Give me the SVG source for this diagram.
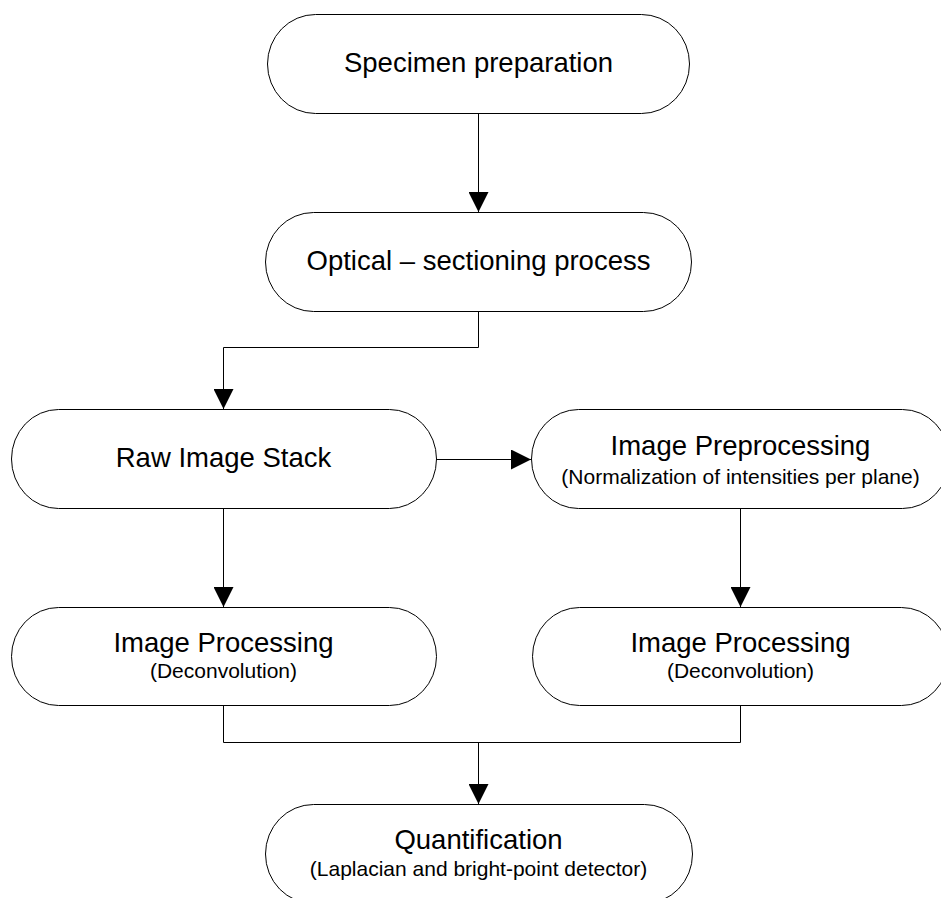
<svg xmlns="http://www.w3.org/2000/svg" width="941" height="898" viewBox="0 0 941 898">
<defs>
<style>
.node{fill:#ffffff;stroke:#000000;stroke-width:1}
.t{font-family:"Liberation Sans",Arial,sans-serif;font-size:27.5px;fill:#000000;text-anchor:middle}
.s{font-family:"Liberation Sans",Arial,sans-serif;font-size:21px;fill:#000000;text-anchor:middle}
.c{fill:none;stroke:#000000;stroke-width:1}
</style>
<marker id="ah" markerUnits="userSpaceOnUse" markerWidth="20" markerHeight="20" viewBox="0 0 18 18" refX="18" refY="9" orient="auto">
<path d="M0,0 L18,9 L0,18 Z" fill="#000000"/>
</marker>
</defs>
<rect width="941" height="898" fill="#ffffff"/>
<g id="connectors">
<path class="c" d="M478.5,113 V212" marker-end="url(#ah)"/>
<path class="c" d="M478.5,311 V347.5 H223.5 V409" marker-end="url(#ah)"/>
<path class="c" d="M436,459.5 H531" marker-end="url(#ah)"/>
<path class="c" d="M223.5,508 V607" marker-end="url(#ah)"/>
<path class="c" d="M740.5,508 V607" marker-end="url(#ah)"/>
<path class="c" d="M223.5,705 V742.5 H740.5 V705"/>
<path class="c" d="M478.5,742.5 V804" marker-end="url(#ah)"/>
</g>
<g id="specimen">
<rect class="node" x="267.5" y="14.5" width="422" height="99" rx="48" ry="49.5"/>
<text class="t" x="478.5" y="72">Specimen preparation</text>
</g>
<g id="optical">
<rect class="node" x="265.5" y="212.5" width="426" height="99" rx="48" ry="49.5"/>
<text class="t" x="478.5" y="270">Optical – sectioning process</text>
</g>
<g id="raw">
<rect class="node" x="11.5" y="409.5" width="425" height="99" rx="47" ry="49.5"/>
<text class="t" x="223.5" y="467">Raw Image Stack</text>
</g>
<g id="preprocessing">
<rect class="node" x="531.5" y="409.5" width="418" height="99" rx="47" ry="49.5"/>
<text class="t" x="740.5" y="455">Image Preprocessing</text>
<text class="s" x="740.5" y="484">(Normalization of intensities per plane)</text>
</g>
<g id="processing-left">
<rect class="node" x="11.5" y="607.5" width="425" height="98" rx="47" ry="49"/>
<text class="t" x="223.5" y="652">Image Processing</text>
<text class="s" x="223.5" y="678">(Deconvolution)</text>
</g>
<g id="processing-right">
<rect class="node" x="532.5" y="607.5" width="416" height="98" rx="47" ry="49"/>
<text class="t" x="740.5" y="652">Image Processing</text>
<text class="s" x="740.5" y="678">(Deconvolution)</text>
</g>
<g id="quantification">
<rect class="node" x="265.5" y="804.5" width="427" height="99" rx="48" ry="49.5"/>
<text class="t" x="478.5" y="849">Quantification</text>
<text class="s" x="478.5" y="876">(Laplacian and bright-point detector)</text>
</g>
</svg>
